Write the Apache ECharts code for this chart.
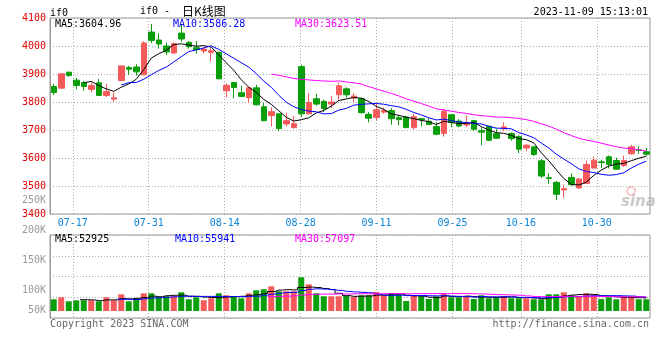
<!DOCTYPE html>
<html><head><meta charset="utf-8">
<script src="https://cdn.jsdelivr.net/npm/echarts@6/dist/echarts.min.js"></script>
<style>html,body{margin:0;padding:0;background:#fff}#c{width:660px;height:360px}</style>
</head><body><div id="c"></div>
<script>
// ---------------- data ----------------
const dates = ['07-12','07-13','07-14','07-17','07-18','07-19','07-20','07-21','07-24','07-25','07-26','07-27','07-28','07-31',
'08-01','08-02','08-03','08-04','08-07','08-08','08-09','08-10','08-11','08-14','08-15','08-16','08-17','08-18','08-21','08-22','08-23','08-24','08-25','08-28','08-29','08-30','08-31',
'09-01','09-04','09-05','09-06','09-07','09-08','09-11','09-12','09-13','09-14','09-15','09-18','09-19','09-20','09-21','09-22','09-25','09-26','09-27','09-28',
'10-09','10-10','10-11','10-12','10-13','10-16','10-17','10-18','10-19','10-20','10-23','10-24','10-25','10-26','10-27','10-30','10-31',
'11-01','11-02','11-03','11-06','11-07','11-08'];
const opens = [3855.4,3849.5,3906.4,3878.0,3869.6,3844.8,3868.5,3823.4,3810.4,3876.8,3923.0,3925.0,3897.0,4049.8,4021.3,4000.0,3975.0,4046.0,4013.0,3994.0,
3982.0,3977.5,3977.5,3840.0,3869.6,3833.0,3815.0,3850.7,3783.0,3751.0,3758.0,3721.5,3708.5,3926.5,3758.0,3811.6,3802.0,3792.6,3826.0,3847.0,
3814.0,3811.6,3756.0,3745.0,3764.0,3769.0,3744.0,3746.4,3708.5,3740.5,3731.0,3712.0,3688.0,3754.7,3732.0,3718.0,3733.4,3697.8,3713.0,3687.0,
3703.8,3687.0,3676.5,3636.0,3640.0,3590.0,3529.5,3513.0,3485.7,3530.7,3493.0,3509.4,3564.0,3586.4,3604.2,3591.0,3573.4,3615.0,3629.0,3622.0];
const closes = [3834.0,3900.5,3894.5,3859.0,3855.4,3859.0,3823.4,3837.7,3815.0,3929.0,3917.0,3907.6,4010.7,4020.0,4007.0,3978.7,4008.3,4025.0,3997.6,3987.0,
3989.0,3983.4,3882.7,3859.0,3852.0,3820.0,3850.7,3790.0,3733.0,3765.4,3705.0,3733.4,3722.7,3758.0,3798.5,3792.6,3777.0,3800.0,3858.0,3826.0,
3821.0,3762.0,3742.0,3772.5,3770.0,3740.5,3737.0,3708.5,3747.6,3737.0,3720.0,3684.8,3766.6,3727.5,3714.4,3725.0,3702.6,3692.0,3663.5,3670.6,
3711.0,3669.4,3631.5,3645.7,3612.5,3535.5,3527.0,3470.3,3490.5,3504.7,3525.0,3577.0,3592.4,3584.0,3577.0,3560.0,3591.0,3640.0,3626.7,3613.7];
const lows = [3824.6,3847.0,3889.8,3845.0,3840.0,3834.0,3821.0,3817.5,3801.0,3876.0,3897.0,3894.5,3897.0,4010.7,3990.5,3968.0,3972.7,4015.4,3990.5,3972.7,
3973.0,3944.0,3881.5,3816.0,3812.8,3820.0,3797.0,3788.0,3733.0,3712.0,3695.5,3712.0,3705.0,3746.0,3754.7,3786.7,3764.0,3778.4,3808.0,3816.0,
3800.0,3758.0,3727.5,3734.6,3758.0,3719.0,3717.0,3706.0,3701.4,3713.0,3720.0,3681.0,3676.0,3709.7,3709.7,3709.7,3696.7,3645.7,3660.0,3668.0,
3695.5,3662.0,3617.0,3624.4,3607.8,3529.5,3507.0,3450.0,3458.5,3501.0,3489.0,3508.2,3564.0,3563.0,3563.0,3560.0,3568.6,3612.5,3615.0,3607.8];
const highs = [3865.0,3902.8,3908.8,3886.0,3874.4,3869.6,3882.7,3865.0,3834.0,3929.0,3929.0,3935.0,4017.0,4079.0,4045.0,4011.8,4013.0,4074.6,4017.8,4017.8,
3995.0,3996.4,3980.0,3866.0,3870.0,3858.0,3855.0,3861.0,3797.0,3780.8,3758.0,3762.0,3750.0,3933.6,3832.0,3829.4,3808.0,3822.2,3870.0,3852.0,
3832.0,3816.0,3764.0,3794.0,3780.0,3778.0,3752.0,3751.0,3758.0,3743.0,3744.0,3727.5,3776.0,3757.0,3739.0,3752.0,3735.7,3709.7,3715.6,3703.8,
3727.5,3692.0,3681.0,3650.4,3640.0,3596.0,3545.8,3517.7,3504.7,3545.0,3528.4,3591.0,3605.4,3593.5,3609.0,3600.6,3608.0,3647.0,3642.0,3636.0];
const volumes = [49000,55600,42300,45600,45600,45600,42300,55600,45600,65600,42300,52300,68900,68900,55600,59000,59000,72300,49000,55600,
45600,52300,68900,62300,59000,52300,68900,78900,82300,92300,75600,75600,75600,122200,98900,68900,59000,59000,59000,60000,
56600,62300,62300,73300,62300,68900,64300,43300,62300,59000,50000,59000,68900,55600,55600,59000,50000,62300,52300,55600,
60000,52300,52300,52300,49000,49000,65600,65600,72300,62300,59000,68900,62300,50000,55600,49000,59000,59000,49000,49000];
const dateTicks = ['07-17','07-31','08-14','08-28','09-11','09-25','10-16','10-30'];
const priceMin = 3400, priceMax = 4100, priceStep = 100;
const volTickMin = 50000, volTickMax = 250000, volTickStep = 50000;
const priceLegend = ['MA5:3604.96','MA10:3586.28','MA30:3623.51'];
const volLegend = ['MA5:52925','MA10:55941','MA30:57097'];

// ---------------- helpers ----------------
function movingAverage(vals, n) {
  return vals.map((v, i) => {
    if (i < n - 1) return '-';
    let s = 0; for (let k = i - n + 1; k <= i; k++) s += vals[k];
    return +(s / n).toFixed(2);
  });
}
const RED = '#f55a5a', GREEN = '#0a9f0a';
const MONO = '"DejaVu Sans Mono", monospace';
const candleData = opens.map((o, i) => [o, closes[i], lows[i], highs[i]]);
const volData = volumes.map((v, i) => ({ value: v, itemStyle: { color: closes[i] > opens[i] ? RED : GREEN } }));
const isTick = (i, v) => dateTicks.indexOf(v) >= 0;
const dotted = { color: '#aaa', type: [1, 2], width: 1 };
const maColors = ['#000000', '#0000ff', '#ff00ff'];
const maN = [5, 10, 30];

const chart = echarts.init(document.getElementById('c'), null, { renderer: 'canvas' });
const series = [{
  type: 'candlestick', xAxisIndex: 0, yAxisIndex: 0, data: candleData, barWidth: 6,
  itemStyle: { color: RED, color0: GREEN, borderColor: RED, borderColor0: GREEN, borderWidth: 1 }
}];
maN.forEach((n, k) => series.push({
  type: 'line', xAxisIndex: 0, yAxisIndex: 0, data: movingAverage(closes, n), showSymbol: false, symbol: 'none',
  lineStyle: { color: maColors[k], width: 1 }, z: 3
}));
series.push({ type: 'bar', xAxisIndex: 3, yAxisIndex: 2, data: volData, barWidth: 6, clip: true });
maN.forEach((n, k) => series.push({
  type: 'line', xAxisIndex: 3, yAxisIndex: 2, data: movingAverage(volumes, n), showSymbol: false, symbol: 'none', step: 'middle',
  lineStyle: { color: maColors[k], width: 1 }, z: 3
}));

function txt(x, y, text, color, opts) {
  return Object.assign({ type: 'text', x: x, y: y, z: 10,
    style: Object.assign({ text: text, fill: color, font: '10px ' + MONO, verticalAlign: 'middle', align: 'left' }, opts || {}) });
}
const legendX = [55, 173, 295];

chart.setOption({
  animation: false,
  backgroundColor: '#fff',
  grid: [
    { left: 50, top: 18, width: 600, height: 196, show: true, borderColor: '#999', borderWidth: 1 },
    { left: 50, top: 235, width: 600, height: 83, show: true, borderColor: '#999', borderWidth: 1 },
    { left: 50, top: 235, width: 600, height: 76 },
    { left: 50, top: 200, width: 600, height: 121 }
  ],
  xAxis: [
    { type: 'category', gridIndex: 0, position: 'bottom', data: dates, boundaryGap: true, axisLine: { show: false }, axisTick: { show: false }, axisLabel: { show: false }, splitLine: { show: false } },
    { type: 'category', gridIndex: 0, position: 'bottom', offset: 0, data: dates, boundaryGap: false, axisLine: { show: false }, axisTick: { show: false },
      axisLabel: { interval: isTick, color: '#0a84d6', fontFamily: MONO, fontSize: 10, margin: 4 },
      splitLine: { show: true, interval: isTick, lineStyle: dotted } },
    { type: 'category', gridIndex: 1, position: 'bottom', data: dates, boundaryGap: false, axisLine: { show: false }, axisTick: { show: false }, axisLabel: { show: false },
      splitLine: { show: true, interval: isTick, lineStyle: dotted } },
    { type: 'category', gridIndex: 2, position: 'bottom', data: dates, boundaryGap: true, axisLine: { show: false }, axisTick: { show: false }, axisLabel: { show: false }, splitLine: { show: false } },
    { type: 'category', gridIndex: 3, position: 'bottom', data: dates, show: false }
  ],
  yAxis: [
    { type: 'value', gridIndex: 0, min: priceMin, max: priceMax, interval: priceStep, axisLine: { show: true, lineStyle: { color: '#999' } }, axisTick: { show: false },
      axisLabel: { color: '#e00000', fontFamily: MONO, fontSize: 10, margin: 4, padding: [0, 0, 4, 0], formatter: v => String(v) },
      splitLine: { show: true, lineStyle: dotted } },
    { type: 'value', gridIndex: 1, min: 0, max: 4, interval: 1, axisLine: { show: true, lineStyle: { color: '#999' } }, axisTick: { show: false }, axisLabel: { show: false },
      splitLine: { show: true, lineStyle: dotted } },
    { type: 'value', gridIndex: 2, min: 10000, max: 263000, show: false, splitLine: { show: false } },
    { type: 'value', gridIndex: 3, min: volTickMin, max: volTickMax, interval: volTickStep, axisLine: { show: false }, axisTick: { show: false }, splitLine: { show: false },
      axisLabel: { color: '#999', fontFamily: MONO, fontSize: 10, margin: 4,
        formatter: v => v === volTickMin ? '{low|' + (v / 1000) + 'K}' : (v / 1000) + 'K',
        rich: { low: { color: '#999', fontFamily: MONO, fontSize: 10, padding: [0, 0, 22, 0] } } } }
  ],
  series: series,
  graphic: [
    txt(50, 13, 'if0', '#000'),
    txt(140, 11, 'if0 - ', '#000'),
    txt(182, 11, '日K线图', '#000', { font: '12px "Noto Sans CJK SC"' }),
    txt(648, 12, '2023-11-09 15:13:01', '#000', { align: 'right' }),
    txt(legendX[0], 24, priceLegend[0], maColors[0]),
    txt(legendX[1], 24, priceLegend[1], maColors[1]),
    txt(legendX[2], 24, priceLegend[2], maColors[2]),
    txt(legendX[0], 239, volLegend[0], maColors[0]),
    txt(legendX[1] + 2, 239, volLegend[1], maColors[1]),
    txt(legendX[2], 239, volLegend[2], maColors[2]),
    txt(50, 324, 'Copyright 2023 SINA.COM', '#666'),
    txt(649, 324, 'http://finance.sina.com.cn', '#666', { align: 'right' }),
    { type: 'circle', shape: { cx: 631, cy: 191, r: 4 }, style: { fill: 'none', stroke: 'rgba(240,130,130,0.45)', lineWidth: 2 }, z: 1 },
    txt(621, 202, 'sina', 'rgba(150,150,150,0.5)', { font: 'italic bold 15px "DejaVu Sans"' })
  ]
});
</script></body></html>
